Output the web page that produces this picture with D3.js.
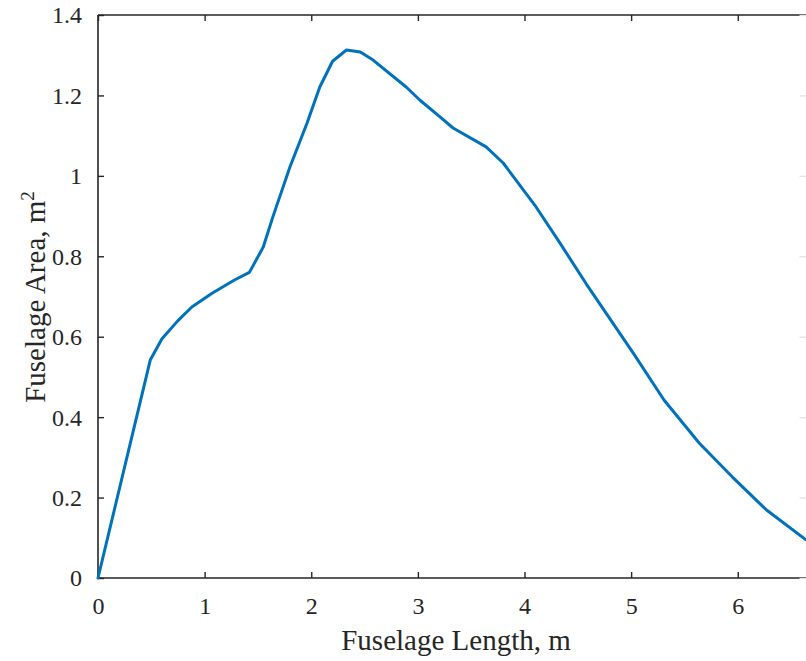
<!DOCTYPE html>
<html><head><meta charset="utf-8">
<script src="https://cdn.jsdelivr.net/npm/d3@7"></script>
<style>body{margin:0;background:#fff;}svg{display:block;}</style>
</head><body>
<svg id="c" width="806" height="661"></svg>
<script>
const lengthM = [0, 0.49, 0.6, 0.75, 0.88, 1.07, 1.28, 1.42, 1.55, 1.64, 1.80, 1.96, 2.08, 2.20, 2.33, 2.46, 2.58, 2.89, 3.02, 3.21, 3.33, 3.64, 3.80, 4.11, 4.33, 4.58, 5.02, 5.31, 5.64, 5.95, 6.27, 6.64];
const areaM2 = [0, 0.542, 0.595, 0.64, 0.674, 0.708, 0.741, 0.76, 0.823, 0.898, 1.022, 1.131, 1.221, 1.285, 1.313, 1.308, 1.288, 1.221, 1.188, 1.146, 1.119, 1.072, 1.032, 0.922, 0.834, 0.731, 0.559, 0.442, 0.335, 0.251, 0.169, 0.095];
const xTicks = [0, 1, 2, 3, 4, 5, 6];
const yTicks = [0, 0.2, 0.4, 0.6, 0.8, 1, 1.2, 1.4];
const xDomain = [0, 6.64];
const yDomain = [0, 1.4];

const svg = d3.select("#c");
const L = 98, R = 806, T = 15, B = 578;
const x = d3.scaleLinear().domain(xDomain).range([L, R]);
const y = d3.scaleLinear().domain(yDomain).range([B, T]);
const ink = "#262626";
const font = "'Liberation Serif', 'Times New Roman', serif";

// axes
const gx = svg.append("g").attr("transform", `translate(0,${B})`)
  .call(d3.axisBottom(x).tickValues(xTicks).tickSize(-6).tickPadding(19).tickFormat(d3.format("d")));
const gxt = svg.append("g").attr("transform", `translate(0,${T})`)
  .call(d3.axisTop(x).tickValues(xTicks).tickSize(-6).tickFormat(""));
const gy = svg.append("g").attr("transform", `translate(${L},0)`)
  .call(d3.axisLeft(y).tickValues(yTicks).tickSize(-6).tickPadding(16).tickFormat(d => d3.format("")(d)));
const gyr = svg.append("g").attr("transform", `translate(${R + 0.5},0)`)
  .call(d3.axisRight(y).tickValues(yTicks).tickSize(-7).tickFormat(""));

[gx, gxt, gy].forEach(g => {
  g.selectAll(".domain").attr("stroke", ink).attr("stroke-width", 1.6);
  g.selectAll(".tick line").attr("stroke", ink).attr("stroke-width", 1.4);
  g.selectAll("text").attr("fill", ink).style("font-family", font).style("font-size", "24px");
});
gx.select(".domain").attr("d", `M${L},0H${R + 2}`);
gxt.select(".domain").attr("d", `M${L},0H${R + 2}`);
gy.select(".domain").attr("d", `M0,${B}V${T}`);
gyr.selectAll(".domain").remove();
gyr.selectAll(".tick line").attr("stroke", "#e4e4e4").attr("stroke-width", 1.4);
gy.selectAll(".tick text").attr("dy", "0.33em");

// line
svg.append("path")
  .datum(lengthM.map((d, i) => [d, areaM2[i]]))
  .attr("fill", "none").attr("stroke", "#0072BD").attr("stroke-width", 3)
  .attr("stroke-linejoin", "round").attr("stroke-linecap", "round")
  .attr("d", d3.line().x(d => x(d[0])).y(d => y(d[1])));

// labels
svg.append("text").attr("x", 456).attr("y", 650).attr("text-anchor", "middle")
  .attr("fill", ink).style("font-family", font).style("font-size", "29px")
  .text("Fuselage Length, m");
const yl = svg.append("text").attr("transform", "translate(45,297) rotate(-90)")
  .attr("text-anchor", "middle").attr("fill", ink)
  .style("font-family", font).style("font-size", "29px");
yl.append("tspan").text("Fuselage Area, m");
yl.append("tspan").attr("dy", "-11").style("font-size", "19px").text("2");
</script>
</body></html>
